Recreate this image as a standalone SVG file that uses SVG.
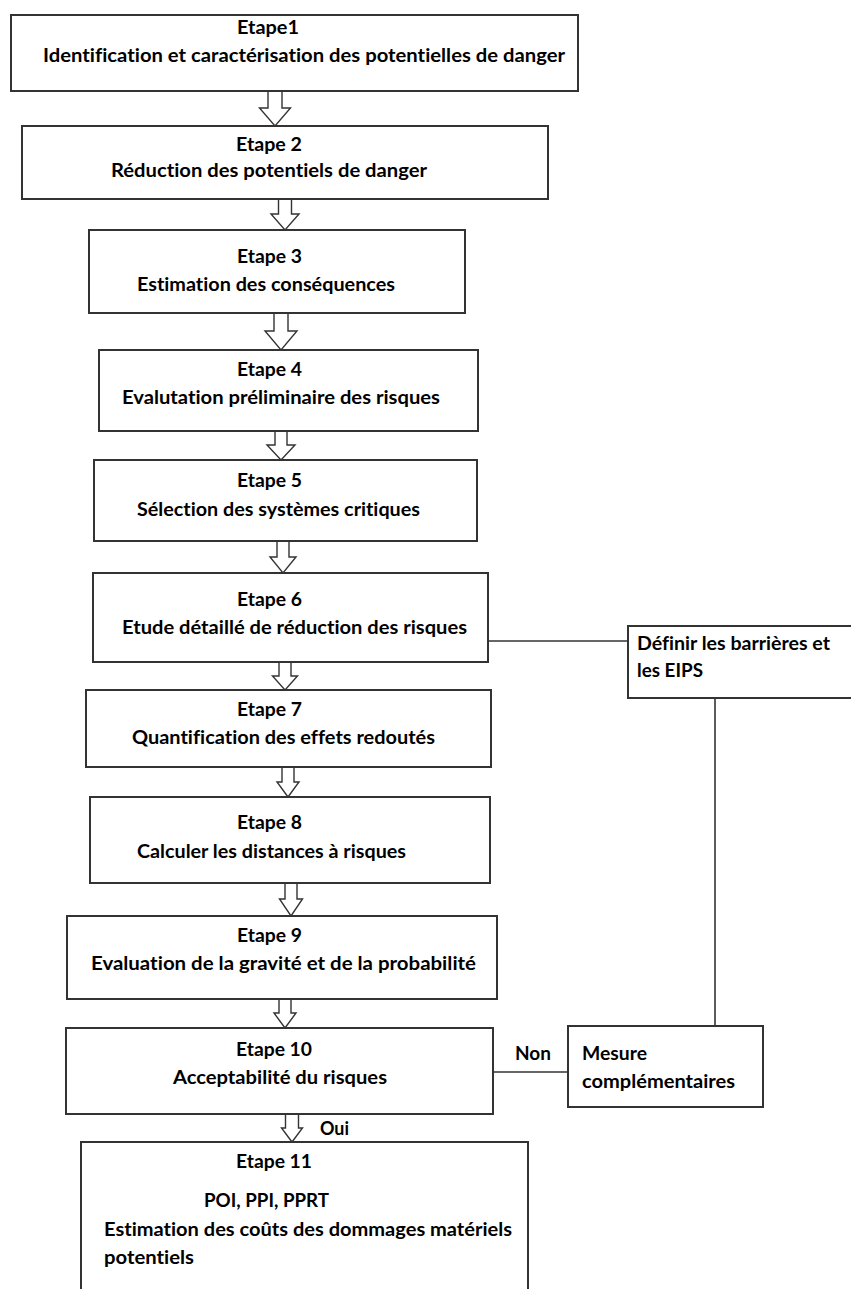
<svg xmlns="http://www.w3.org/2000/svg" width="851" height="1289" viewBox="0 0 851 1289">
  <style>
    .box { fill: #ffffff; stroke: #333333; stroke-width: 2; }
    .blk { fill: #ffffff; stroke: #333333; stroke-width: 1.4; stroke-linejoin: miter; }
    .wire { fill: none; stroke: #333333; stroke-width: 1.6; }
    text { font-family: Lato, "Open Sans", "Liberation Sans", sans-serif; font-weight: bold; font-size: 18px; fill: #000000; font-variant-ligatures: none; }
  </style>
  <rect x="0" y="0" width="851" height="1289" fill="#ffffff"/>

  <!-- side links: Etape 6 -> barriers, barriers -> measures, Etape 10 -> measures -->
  <g id="connectors">
    <path class="wire" d="M488 641 H628"/>
    <path class="wire" d="M715 698 V1026"/>
    <path class="wire" d="M493 1072 H568"/>
    <text x="515" y="1060" textLength="36" lengthAdjust="spacingAndGlyphs">Non</text>
    <text x="320" y="1135" textLength="29" lengthAdjust="spacingAndGlyphs">Oui</text>
    <!-- block arrows between steps -->
    <polygon class="blk" points="268,91 282,91 282,108 290.5,108 275,126 259.5,108 268,108"/>
    <polygon class="blk" points="278.5,199 291.5,199 291.5,214 299,214 285,230 271,214 278.5,214"/>
    <polygon class="blk" points="274,313 288,313 288,331 297,331 281,350 265,331 274,331"/>
    <polygon class="blk" points="275,431 287,431 287,445 295,445 281,460 267,445 275,445"/>
    <polygon class="blk" points="277,541 289,541 289,557 296,557 283,573 270,557 277,557"/>
    <polygon class="blk" points="279,662 291,662 291,676 297.5,676 285,690 272.5,676 279,676"/>
    <polygon class="blk" points="282,767 294,767 294,782 299,782 288,797 277,782 282,782"/>
    <polygon class="blk" points="285,883 297,883 297,899 302.5,899 291,916 279.5,899 285,899"/>
    <polygon class="blk" points="279,999 291,999 291,1013 296,1013 285,1028 274,1013 279,1013"/>
    <polygon class="blk" points="285.5,1114 298.5,1114 298.5,1128 302.5,1128 292,1142 281.5,1128 285.5,1128"/>
  </g>

  <g id="etape1">
    <rect class="box" x="11" y="15" width="567" height="76"/>
    <text x="237" y="33.5" textLength="62" lengthAdjust="spacingAndGlyphs">Etape1</text>
    <text x="43" y="62" textLength="522" lengthAdjust="spacingAndGlyphs">Identification et caractérisation des potentielles de danger</text>
  </g>
  <g id="etape2">
    <rect class="box" x="22" y="126" width="526" height="73"/>
    <text x="236" y="151" textLength="66" lengthAdjust="spacingAndGlyphs">Etape 2</text>
    <text x="111" y="177" textLength="316" lengthAdjust="spacingAndGlyphs">Réduction des potentiels de danger</text>
  </g>
  <g id="etape3">
    <rect class="box" x="89" y="230" width="376" height="83"/>
    <text x="237" y="263" textLength="65" lengthAdjust="spacingAndGlyphs">Etape 3</text>
    <text x="137" y="291" textLength="258" lengthAdjust="spacingAndGlyphs">Estimation des conséquences</text>
  </g>
  <g id="etape4">
    <rect class="box" x="99" y="350" width="379" height="81"/>
    <text x="237" y="376" textLength="65" lengthAdjust="spacingAndGlyphs">Etape 4</text>
    <text x="122" y="404" textLength="318" lengthAdjust="spacingAndGlyphs">Evalutation préliminaire des risques</text>
  </g>
  <g id="etape5">
    <rect class="box" x="94" y="460" width="383" height="81"/>
    <text x="237" y="487" textLength="65" lengthAdjust="spacingAndGlyphs">Etape 5</text>
    <text x="137" y="516" textLength="283" lengthAdjust="spacingAndGlyphs">Sélection des systèmes critiques</text>
  </g>
  <g id="etape6">
    <rect class="box" x="93" y="573" width="395" height="89"/>
    <text x="237" y="606" textLength="65" lengthAdjust="spacingAndGlyphs">Etape 6</text>
    <text x="122" y="634" textLength="345" lengthAdjust="spacingAndGlyphs">Etude détaillé de réduction des risques</text>
  </g>
  <g id="etape7">
    <rect class="box" x="86" y="690" width="405" height="77"/>
    <text x="237" y="716" textLength="65" lengthAdjust="spacingAndGlyphs">Etape 7</text>
    <text x="132" y="744" textLength="303" lengthAdjust="spacingAndGlyphs">Quantification des effets redoutés</text>
  </g>
  <g id="etape8">
    <rect class="box" x="90" y="797" width="400" height="86"/>
    <text x="237" y="829" textLength="65" lengthAdjust="spacingAndGlyphs">Etape 8</text>
    <text x="137" y="858" textLength="269" lengthAdjust="spacingAndGlyphs">Calculer les distances à risques</text>
  </g>
  <g id="etape9">
    <rect class="box" x="67" y="916" width="430" height="83"/>
    <text x="237" y="942" textLength="65" lengthAdjust="spacingAndGlyphs">Etape 9</text>
    <text x="91" y="970" textLength="385" lengthAdjust="spacingAndGlyphs">Evaluation de la gravité et de la probabilité</text>
  </g>
  <g id="etape10">
    <rect class="box" x="66" y="1028" width="427" height="86"/>
    <text x="236" y="1056" textLength="76" lengthAdjust="spacingAndGlyphs">Etape 10</text>
    <text x="173" y="1084" textLength="214" lengthAdjust="spacingAndGlyphs">Acceptabilité du risques</text>
  </g>
  <g id="etape11">
    <rect class="box" x="81" y="1142" width="447" height="170"/>
    <text x="236" y="1168" textLength="76" lengthAdjust="spacingAndGlyphs">Etape 11</text>
    <text x="204" y="1207" textLength="125" lengthAdjust="spacingAndGlyphs">POI, PPI, PPRT</text>
    <text x="104" y="1236" textLength="408" lengthAdjust="spacingAndGlyphs">Estimation des coûts des dommages matériels</text>
    <text x="104" y="1264" textLength="90" lengthAdjust="spacingAndGlyphs">potentiels</text>
  </g>
  <g id="barrieres">
    <rect class="box" x="628" y="626" width="230" height="72"/>
    <text x="637" y="650" textLength="193" lengthAdjust="spacingAndGlyphs">Définir les barrières et</text>
    <text x="637" y="677" textLength="66" lengthAdjust="spacingAndGlyphs">les EIPS</text>
  </g>
  <g id="mesures">
    <rect class="box" x="568" y="1026" width="195" height="81"/>
    <text x="582" y="1060" textLength="65" lengthAdjust="spacingAndGlyphs">Mesure</text>
    <text x="582" y="1088" textLength="153" lengthAdjust="spacingAndGlyphs">complémentaires</text>
  </g>
</svg>
